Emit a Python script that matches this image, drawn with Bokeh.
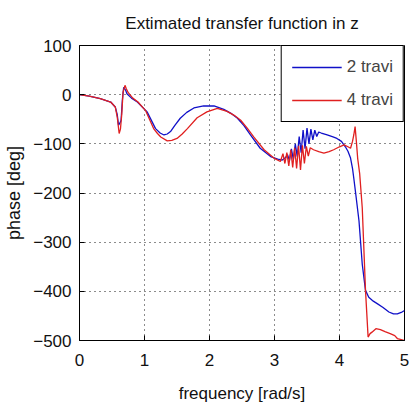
from bokeh.plotting import figure
from bokeh.models import FixedTicker, Range1d, Legend, LegendItem
from bokeh.embed import file_html
from bokeh.resources import INLINE

title_text = "Extimated transfer function in z"
x_label = "frequency [rad/s]"
y_label = "phase [deg]"
x_ticks = [0, 1, 2, 3, 4, 5]
y_ticks = [100, 0, -100, -200, -300, -400, -500]

blue_x = [0.0, 0.15, 0.32, 0.48, 0.55, 0.58, 0.60, 0.62, 0.64, 0.66, 0.68, 0.71, 0.73, 0.80, 0.89, 1.04,
          1.17, 1.24, 1.30, 1.35, 1.40, 1.47, 1.55, 1.65, 1.76, 1.91, 2.07, 2.22, 2.33, 2.43, 2.53, 2.63,
          2.78, 2.94, 3.05, 3.12, 3.17, 3.20, 3.23, 3.26, 3.29, 3.32, 3.35, 3.38, 3.41, 3.44, 3.47, 3.50,
          3.53, 3.56, 3.59, 3.62, 3.65, 3.68, 3.72, 3.81, 3.90, 3.96, 4.03, 4.09, 4.13, 4.17, 4.20, 4.22,
          4.25, 4.30, 4.35, 4.40, 4.45, 4.52, 4.58, 4.67, 4.76, 4.83, 4.89, 4.95, 5.0]
blue_y = [0, -3, -8, -15, -25, -40, -62, -58, -52, -10, 15, 9, 2, -7, -15, -35,
          -69, -78, -82, -80, -75, -62, -48, -36, -27, -23, -23, -30, -38, -48, -63, -82,
          -109, -126, -131, -133, -128, -122, -134, -110, -132, -100, -126, -85, -118, -72, -110, -68,
          -100, -70, -92, -72, -85, -76, -78, -82, -86, -89, -95, -106, -115, -129, -150, -170,
          -202, -257, -345, -398, -412, -420, -425, -433, -442, -446, -446, -443, -439]

red_x = [0.0, 0.15, 0.32, 0.48, 0.55, 0.58, 0.61, 0.63, 0.65, 0.67, 0.70, 0.72, 0.75, 0.82, 0.90, 1.02,
         1.14, 1.20, 1.25, 1.35, 1.42, 1.50, 1.58, 1.66, 1.81, 1.96, 2.12, 2.27, 2.38, 2.48, 2.58, 2.68,
         2.84, 2.99, 3.09, 3.13, 3.16, 3.19, 3.22, 3.25, 3.28, 3.31, 3.34, 3.37, 3.40, 3.43, 3.46, 3.49,
         3.52, 3.55, 3.60, 3.68, 3.76, 3.84, 3.91, 4.00, 4.07, 4.13, 4.17, 4.20, 4.22, 4.24, 4.26, 4.28,
         4.31, 4.35, 4.40, 4.44, 4.47, 4.50, 4.56, 4.63, 4.70, 4.78, 4.85, 4.89, 4.95, 5.0]
red_y = [0, -3, -8, -15, -25, -45, -79, -70, -40, 5, 19, 12, 4, -7, -15, -33,
         -69, -79, -86, -94, -93, -89, -80, -69, -47, -35, -28, -34, -42, -52, -68, -86,
         -112, -129, -136, -120, -140, -118, -145, -112, -148, -108, -150, -104, -153, -103, -140, -105,
         -125, -108, -112, -116, -119, -116, -112, -106, -102, -106, -109, -95, -82, -65, -96, -130,
         -160, -230, -398, -493, -486, -483, -476, -478, -482, -486, -490, -496, -498, -500]

p = figure(width=409, height=405, output_backend="svg", toolbar_location=None,
           x_range=Range1d(0, 5), y_range=Range1d(-500, 100),
           min_border_left=79, min_border_right=5, min_border_top=45, min_border_bottom=64,
           title=title_text)
p.title.text_font = "Liberation Sans"
p.title.text_font_size = "17px"
p.title.text_font_style = "normal"
p.title.align = "center"
p.title.vertical_align = "top"
p.title.text_color = "#111111"
p.title.standoff = 22

p.background_fill_color = "white"
p.border_fill_color = "white"
p.outline_line_color = "black"
p.outline_line_width = 1

for ax in (p.xaxis[0], p.yaxis[0]):
    ax.major_tick_in = 5
    ax.major_tick_out = 0
    ax.minor_tick_in = 0
    ax.minor_tick_out = 0
    ax.axis_line_color = "black"
    ax.major_tick_line_color = "black"
    ax.major_label_text_font = "Liberation Sans"
    ax.major_label_text_font_size = "17px"
    ax.major_label_text_color = "#111111"
    ax.axis_label_text_font = "Liberation Sans"
    ax.axis_label_text_font_style = "normal"
    ax.axis_label_text_color = "#111111"

p.xaxis.axis_label_text_font_size = "17px"
p.yaxis.axis_label_text_font_size = "18px"
p.xaxis.ticker = FixedTicker(ticks=x_ticks)
p.yaxis.ticker = FixedTicker(ticks=y_ticks)
p.xaxis.axis_label = x_label
p.yaxis.axis_label = y_label
p.xaxis.major_label_standoff = 13
p.yaxis.major_label_standoff = 8
p.xaxis.axis_label_standoff = 15
p.yaxis.axis_label_standoff = 6

for g in (p.xgrid[0], p.ygrid[0]):
    g.grid_line_color = "black"
    g.grid_line_dash = "1 4"
    g.grid_line_width = 1
    g.grid_line_alpha = 0.9
p.xgrid.ticker = FixedTicker(ticks=x_ticks)
p.ygrid.ticker = FixedTicker(ticks=y_ticks)

rb = p.line(blue_x, blue_y, line_color="#1010c8", line_width=1.3)
rr = p.line(red_x, red_y, line_color="#e02020", line_width=1.3)

legend = Legend(items=[LegendItem(label="2 travi", renderers=[rb]),
                       LegendItem(label="4 travi", renderers=[rr])],
                location="top_right")
legend.border_line_color = "black"
legend.border_line_width = 1
legend.border_line_alpha = 1
legend.label_text_font = "Liberation Sans"
legend.label_text_font_size = "17px"
legend.glyph_width = 50
legend.glyph_height = 22
legend.spacing = 11
legend.padding = 10
legend.margin = 0
legend.label_standoff = 5
legend.background_fill_alpha = 1
p.add_layout(legend, "center")

open("out.html", "w").write(file_html(p, INLINE))
